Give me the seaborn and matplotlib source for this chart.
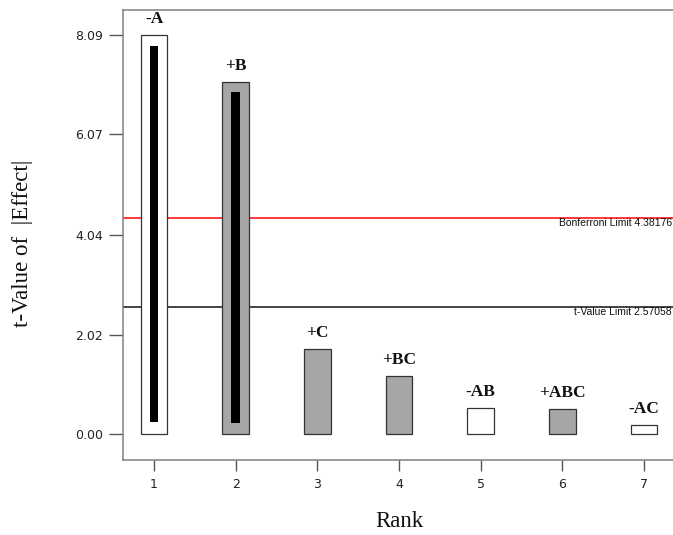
import numpy as np
import pandas as pd
import matplotlib
matplotlib.use("Agg")
import matplotlib.pyplot as plt
import matplotlib.patheffects as pe
from matplotlib import font_manager
import seaborn as sns

# Valores (Pareto de efeitos)
ranks = [1, 2, 3, 4, 5, 6, 7]
effects = ["-A", "+B", "+C", "+BC", "-AB", "+ABC", "-AC"]
t_values = [8.09, 7.13, 1.73, 1.19, 0.53, 0.51, 0.18]
# barras pretas internas (apenas rank 1 e 2)
inner_low = [0.25, 0.23, np.nan, np.nan, np.nan, np.nan, np.nan]
inner_high = [7.86, 6.93, np.nan, np.nan, np.nan, np.nan, np.nan]
y_ticks = [0.00, 2.02, 4.04, 6.07, 8.09]
bonferroni = 4.38176
t_limit = 2.57058

df = pd.DataFrame({"Rank": ranks, "Efeito": effects, "t": t_values,
                   "lo": inner_low, "hi": inner_high})
df["sinal"] = np.where(df["Efeito"].str.startswith("-"), "neg", "pos")

sns.set_theme(style="white")
plt.rcParams["font.family"] = ["Liberation Sans", "DejaVu Sans"]
serif = ["Liberation Serif", "DejaVu Serif"]

# se não houver a versão bold da fonte serif, engrossa com contorno
bold_file = font_manager.findfont(font_manager.FontProperties(family="Liberation Serif", weight="bold"))
fake_bold = "bold" not in bold_file.lower()
label_fx = [pe.withStroke(linewidth=0.7, foreground="#111111")] if fake_bold else None

fig = plt.figure(figsize=(6.73, 5.35), dpi=100)
ax = fig.add_axes([123 / 673, 75 / 535, 552 / 673, 450.5 / 535])

sns.barplot(data=df, x="Rank", y="t", hue="sinal", native_scale=True,
            palette={"neg": "white", "pos": "#a6a6a6"}, width=0.327,
            edgecolor="#333333", linewidth=0.9, dodge=False, legend=False,
            saturation=1, ax=ax, zorder=2)

# barras pretas internas
ax.bar(df["Rank"], df["hi"] - df["lo"], bottom=df["lo"], width=0.107,
       color="black", linewidth=0, zorder=3)

# linhas de limite
ax.axhline(bonferroni, color="#ff0000", lw=1.1, zorder=0.5)
ax.axhline(t_limit, color="#111111", lw=1.1, zorder=0.5)
ax.text(0.994, bonferroni, f"Bonferroni Limit {bonferroni:.5f}",
        transform=ax.get_yaxis_transform(), ha="right", va="top",
        fontsize=7.5, color="#111111", clip_on=False)
ax.text(0.994, t_limit, f"t-Value Limit {t_limit:.5f}",
        transform=ax.get_yaxis_transform(), ha="right", va="top",
        fontsize=7.5, color="#111111", clip_on=False)

# rótulos dos efeitos
for r, e, v in zip(ranks, effects, t_values):
    ax.annotate(e, (r, v), xytext=(0, 8.6), textcoords="offset points",
                ha="center", va="baseline", fontsize=12.5, fontweight="bold",
                family=serif, color="#111111", path_effects=label_fx)

ax.set_xlim(0.62, 7.38)
ax.set_ylim(-0.52, 8.6)
ax.set_xticks(ranks)
ax.set_xticklabels([str(r) for r in ranks])
ax.set_yticks(y_ticks)
ax.set_yticklabels([f"{v:.2f}" for v in y_ticks])

ax.tick_params(axis="x", direction="out", length=8, width=1.0, color="#555555",
               pad=5, labelsize=9, labelcolor="#222222", bottom=True)
ax.tick_params(axis="y", direction="out", length=10, width=1.0, color="#555555",
               pad=4.3, labelsize=9, labelcolor="#222222", left=True)
for lab in ax.get_xticklabels() + ax.get_yticklabels():
    lab.set_family(["DejaVu Sans"])

for s in ["left", "bottom", "top"]:
    ax.spines[s].set_color("#808080")
    ax.spines[s].set_linewidth(1.1)
ax.spines["right"].set_visible(False)

ax.set_xlabel("Rank", fontsize=16.5, family=serif, color="#111111")
ax.set_ylabel("t-Value of  |Effect|", fontsize=16.5, family=serif, color="#111111")
ax.xaxis.set_label_coords(0.5, -0.113)
ax.yaxis.set_label_coords(-0.163, 0.48)

fig.savefig("out.png", dpi=100)
